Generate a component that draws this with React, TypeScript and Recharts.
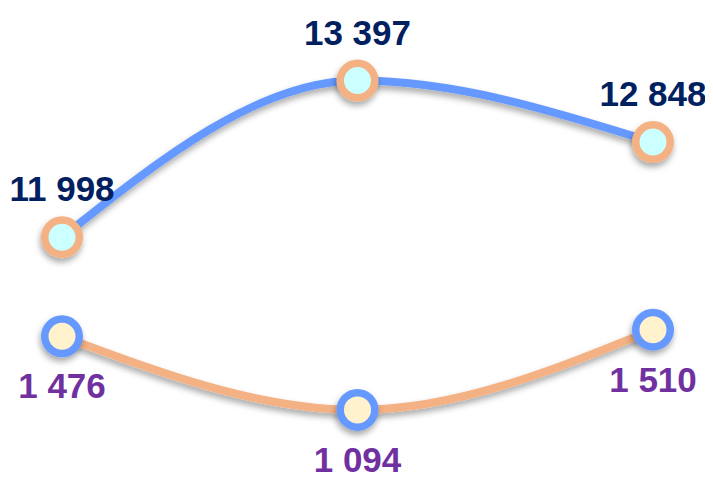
import React from 'react';
import { LineChart, Line, XAxis, YAxis, LabelList } from 'recharts';

const categories = ['A', 'B', 'C'];
const upperValues = [11998, 13397, 12848];
const lowerValues = [1476, 1094, 1510];

const data = categories.map((name, i) => ({
  name,
  upper: upperValues[i],
  lower: lowerValues[i]
}));

// thousands separated by a space: 11998 -> "11 998"
const fmt = (v: any) => String(v).replace(/\B(?=(\d{3})+(?!\d))/g, ' ');

export default function App() {
  return (
    <LineChart
      width={705}
      height={469}
      data={data}
      margin={{ top: 0, right: 60, left: 54, bottom: 0 }}
      style={{ fontFamily: '"Liberation Sans", Arial, sans-serif' }}
    >
      <defs>
        <filter id="shadow" x="-30%" y="-30%" width="160%" height="180%">
          <feDropShadow dx="-1" dy="4" stdDeviation="3" floodColor="#000" floodOpacity="0.35" />
        </filter>
      </defs>
      <XAxis dataKey="name" hide />
      <YAxis yAxisId="upper" hide domain={[9857, 14045]} />
      <YAxis yAxisId="lower" hide domain={[746, 3179]} />
      <Line
        yAxisId="upper"
        type="monotone"
        dataKey="upper"
        stroke="#6699FF"
        strokeWidth={8}
        filter="url(#shadow)"
        dot={{ r: 17.25, stroke: '#F4B183', strokeWidth: 7.5, fill: '#CCFFFF', filter: 'url(#shadow)' }}
        activeDot={false}
        isAnimationActive={false}
      >
        <LabelList
          dataKey="upper"
          position="top"
          offset={36}
          formatter={fmt}
          fill="#002060"
          fontSize={35}
          fontWeight="bold"
        />
      </Line>
      <Line
        yAxisId="lower"
        type="monotone"
        dataKey="lower"
        stroke="#F4B183"
        strokeWidth={8}
        filter="url(#shadow)"
        dot={{ r: 17.25, stroke: '#6699FF', strokeWidth: 7.5, fill: '#FFF2CC', filter: 'url(#shadow)' }}
        activeDot={false}
        isAnimationActive={false}
      >
        <LabelList
          dataKey="lower"
          position="bottom"
          offset={37}
          formatter={fmt}
          fill="#7030A0"
          fontSize={35}
          fontWeight="bold"
        />
      </Line>
    </LineChart>
  );
}
